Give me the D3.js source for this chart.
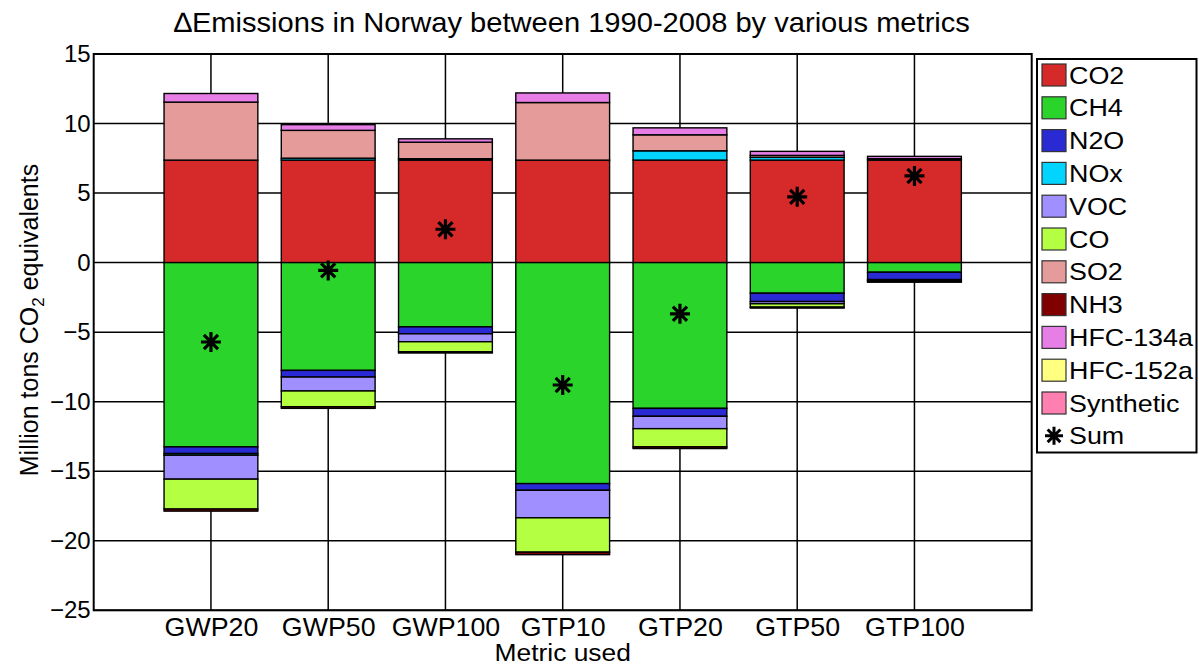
<!DOCTYPE html>
<html>
<head>
<meta charset="utf-8">
<script src="https://cdn.jsdelivr.net/npm/d3@7"></script>
<style>
  html, body { margin: 0; padding: 0; background: #fff; }
  svg { display: block; font-family: "Liberation Sans", Arial, Helvetica, sans-serif; }
</style>
</head>
<body>
<svg id="chart" width="1199" height="666"></svg>
<script>
// Change in Norwegian emissions 1990-2008 (Mt CO2-eq) under different emission metrics
const metrics = ["GWP20", "GWP50", "GWP100", "GTP10", "GTP20", "GTP50", "GTP100"];
const gases = ["CO2", "CH4", "N2O", "NOx", "VOC", "CO", "SO2", "NH3", "HFC-134a", "HFC-152a", "Synthetic"];

const co2       = [7.37, 7.37, 7.37, 7.37, 7.37, 7.37, 7.37];
const ch4       = [-13.25, -7.75, -4.62, -15.89, -10.48, -2.20, -0.69];
const n2o       = [-0.48, -0.48, -0.50, -0.48, -0.57, -0.60, -0.53];
const nox       = [-0.12, 0.14, 0.10, 0.00, 0.67, 0.20, 0.00];
const voc       = [-1.72, -1.00, -0.57, -1.98, -0.89, -0.16, -0.06];
const co        = [-2.15, -1.13, -0.72, -2.47, -1.31, -0.24, -0.06];
const so2       = [4.17, 2.00, 1.19, 4.14, 1.15, 0.14, 0.10];
const nh3       = [-0.15, -0.12, -0.09, -0.18, -0.12, -0.07, -0.07];
const hfc134a   = [0.62, 0.41, 0.24, 0.69, 0.50, 0.29, 0.17];
const hfc152a   = [0, 0, 0, 0, 0, 0, 0];
const synthetic = [0, 0, 0, 0, 0, 0, 0];

const yTicks = [-25, -20, -15, -10, -5, 0, 5, 10, 15];

const colors = {
  "CO2": "#d62a2a", "CH4": "#2bd42b", "N2O": "#2a2ad4", "NOx": "#00d4ff",
  "VOC": "#9f8fff", "CO": "#b5ff42", "SO2": "#e59b99", "NH3": "#800000",
  "HFC-134a": "#e67ee6", "HFC-152a": "#ffff80", "Synthetic": "#ff80b0"
};

const series = [co2, ch4, n2o, nox, voc, co, so2, nh3, hfc134a, hfc152a, synthetic];
const table = metrics.map((m, i) => {
  const row = { metric: m, index: i + 1 };
  gases.forEach((g, k) => { row[g] = series[k][i]; });
  return row;
});
const sums = table.map(r => ({ index: r.index, value: d3.sum(gases, g => r[g]) }));

const svg = d3.select("#chart");
const plotL = 93.7, plotR = 1031.7, plotT = 54, plotB = 610.3;

const x = d3.scaleLinear().domain([0, 8]).range([plotL, plotR]);
const y = d3.scaleLinear().domain([-25, 15]).range([plotB, plotT]);
const barW = x(0.8) - x(0);

// grid
const grid = svg.append("g").attr("stroke", "#000").attr("stroke-width", 1.5);
grid.selectAll("line.h").data(yTicks).join("line").attr("class", "h")
  .attr("x1", plotL).attr("x2", plotR)
  .attr("y1", d => y(d)).attr("y2", d => y(d));
grid.selectAll("line.v").data(table).join("line").attr("class", "v")
  .attr("x1", d => x(d.index)).attr("x2", d => x(d.index))
  .attr("y1", plotT).attr("y2", plotB);

// stacked bars, positives above zero and negatives below
const stacked = d3.stack().keys(gases).offset(d3.stackOffsetDiverging)(table);
const bars = svg.append("g");
stacked.forEach(layer => {
  bars.append("g")
    .attr("fill", colors[layer.key])
    .attr("stroke", "#000").attr("stroke-width", 1.4)
    .selectAll("rect")
    .data(layer.filter(d => d[1] !== d[0]))
    .join("rect")
    .attr("x", d => x(d.data.index) - barW / 2)
    .attr("width", barW)
    .attr("y", d => y(Math.max(d[0], d[1])))
    .attr("height", d => Math.abs(y(d[0]) - y(d[1])));
});

// asterisk marker
function asterisk(g, cx, cy, r, w) {
  const a = r * Math.SQRT1_2;
  const p = `M${cx - r},${cy}L${cx + r},${cy}M${cx},${cy - r}L${cx},${cy + r}` +
            `M${cx - a},${cy - a}L${cx + a},${cy + a}M${cx - a},${cy + a}L${cx + a},${cy - a}`;
  g.append("path").attr("d", p).attr("stroke", "#000").attr("stroke-width", w).attr("fill", "none");
}
const stars = svg.append("g");
sums.forEach(s => asterisk(stars, x(s.index), y(s.value), 10, 3.2));

// axes box
svg.append("rect").attr("x", plotL).attr("y", plotT)
  .attr("width", plotR - plotL).attr("height", plotB - plotT)
  .attr("fill", "none").attr("stroke", "#000").attr("stroke-width", 2);

// y axis
const yAxis = svg.append("g").attr("transform", `translate(${plotL},0)`)
  .call(d3.axisLeft(y).tickValues(yTicks).tickSize(0).tickPadding(3).tickFormat(d3.format("d")));
yAxis.select(".domain").remove();
yAxis.selectAll("text").attr("font-size", 24).attr("fill", "#000")
  .attr("font-family", "Liberation Sans, Arial, sans-serif");

// x axis
const xAxis = svg.append("g").attr("transform", `translate(0,${plotB})`)
  .call(d3.axisBottom(x).tickValues(table.map(d => d.index)).tickSize(0).tickPadding(7)
    .tickFormat((d, i) => metrics[i]));
xAxis.select(".domain").remove();
xAxis.selectAll("text").attr("font-size", 26).attr("fill", "#000")
  .attr("transform", "scale(1.03,1)")
  .attr("font-family", "Liberation Sans, Arial, sans-serif");

// text placed at (tx, ty) with a slight horizontal stretch
function label(g, tx, ty, size, sx, anchor, str) {
  return g.append("text").attr("transform", `translate(${tx},${ty}) scale(${sx},1)`)
    .attr("text-anchor", anchor).attr("font-size", size).text(str);
}

// titles
label(svg, 572, 32, 28, 1.04, "middle", "\u2206Emissions in Norway between 1990-2008 by various metrics");
label(svg, (plotL + plotR) / 2, 661, 24, 1.1, "middle", "Metric used");
const yl = svg.append("text").attr("transform", `translate(38,320) rotate(-90)`)
  .attr("text-anchor", "middle").attr("font-size", 25);
yl.append("tspan").text("Million tons CO");
yl.append("tspan").attr("font-size", 17).attr("dy", 6).text("2");
yl.append("tspan").attr("dy", -6).text(" equivalents");

// legend
const lg = svg.append("g");
lg.append("rect").attr("x", 1037).attr("y", 59).attr("width", 159.5).attr("height", 393.5)
  .attr("fill", "#fff").attr("stroke", "#000").attr("stroke-width", 2);
const rowH = 32.8, row0 = 75;
gases.forEach((g, i) => {
  const cy = row0 + i * rowH;
  lg.append("rect").attr("x", 1042).attr("y", cy - 11).attr("width", 24).attr("height", 22)
    .attr("fill", colors[g]).attr("stroke", "#333").attr("stroke-width", 1.2);
  label(lg, 1069, cy + 8.5, 24, 1.12, "start", g);
});
const sumY = row0 + gases.length * rowH;
asterisk(lg, 1054, sumY, 9, 3);
label(lg, 1069, sumY + 8.5, 24, 1.12, "start", "Sum");
</script>
</body>
</html>
